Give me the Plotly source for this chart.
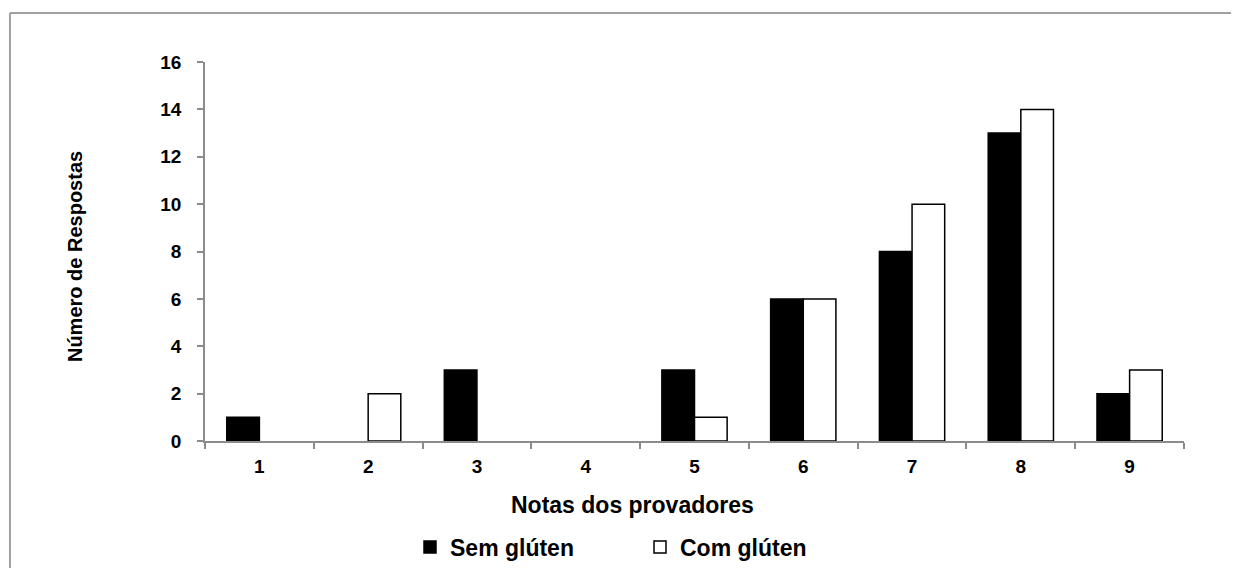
import plotly.graph_objects as go

categories = ["1", "2", "3", "4", "5", "6", "7", "8", "9"]
sem_gluten = [1, 0, 3, 0, 3, 6, 8, 13, 2]
com_gluten = [0, 2, 0, 0, 1, 6, 10, 14, 3]
y_ticks = [0, 2, 4, 6, 8, 10, 12, 14, 16]

FONT = "Liberation Sans, Arial, sans-serif"
AX = "#8c8c8c"


def outline(vals):
    return [1.5 if v > 0 else 0 for v in vals]


fig = go.Figure()
# data traces (zero-height bars get no outline)
fig.add_trace(go.Bar(x=categories, y=sem_gluten, name="Sem glúten", offsetgroup="sem",
                     showlegend=False,
                     marker=dict(color="black", line=dict(color="black", width=outline(sem_gluten)))))
fig.add_trace(go.Bar(x=categories, y=com_gluten, name="Com glúten", offsetgroup="com",
                     showlegend=False,
                     marker=dict(color="white", line=dict(color="black", width=outline(com_gluten)))))
# legend entries
fig.add_trace(go.Bar(x=[None], y=[None], name="Sem glúten", offsetgroup="sem",
                     marker=dict(color="black", line=dict(color="black", width=1.5))))
fig.add_trace(go.Bar(x=[None], y=[None], name="Com glúten", offsetgroup="com",
                     marker=dict(color="white", line=dict(color="black", width=1.5))))

fig.update_layout(
    width=1231, height=560,
    margin=dict(l=197, r=55, t=54, b=127),
    paper_bgcolor="white", plot_bgcolor="white",
    barmode="group", bargap=0.4, bargroupgap=0,
    font=dict(family=FONT, color="black", weight="bold"),
    showlegend=True,
    legend=dict(orientation="h", xref="paper", x=0.2094, xanchor="left",
                yref="container", y=0.0375, yanchor="middle",
                font=dict(size=23, family=FONT, weight="bold"), traceorder="normal",
                itemwidth=30, entrywidth=185, borderwidth=0, bgcolor="rgba(0,0,0,0)"),
    xaxis=dict(type="category", showline=True, linecolor=AX, linewidth=1.5,
               ticks="outside", tickson="boundaries", ticklen=6, tickcolor=AX, tickwidth=1.5,
               tickfont=dict(size=19, family=FONT, weight="bold"), ticklabelstandoff=7,
               showgrid=False, zeroline=False, fixedrange=True),
    yaxis=dict(range=[0, 16], tickvals=y_ticks, showline=True, linecolor=AX, linewidth=1.5,
               ticks="outside", ticklen=6, tickcolor=AX, tickwidth=1.5,
               tickfont=dict(size=19, family=FONT, weight="bold"), ticklabelstandoff=12,
               showgrid=False, zeroline=False),
    annotations=[
        dict(text="Notas dos provadores", xref="paper", yref="paper", x=0.437, y=-0.169,
             xanchor="center", yanchor="middle", showarrow=False,
             font=dict(size=23, family=FONT, weight="bold")),
        dict(text="Número de Respostas", xref="paper", yref="paper", x=-0.1328, y=0.488,
             xanchor="center", yanchor="middle", showarrow=False, textangle=-90,
             font=dict(size=20, family=FONT, weight="bold")),
    ],
    shapes=[
        dict(type="line", xref="paper", yref="paper", x0=-0.1992, x1=1.2, y0=1.1293, y1=1.1293,
             line=dict(color="#a0a0a0", width=2)),
        dict(type="line", xref="paper", yref="paper", x0=-0.1992, x1=-0.1992, y0=1.1293, y1=-0.5,
             line=dict(color="#a0a0a0", width=2)),
    ],
)

fig.write_html("out.html")
